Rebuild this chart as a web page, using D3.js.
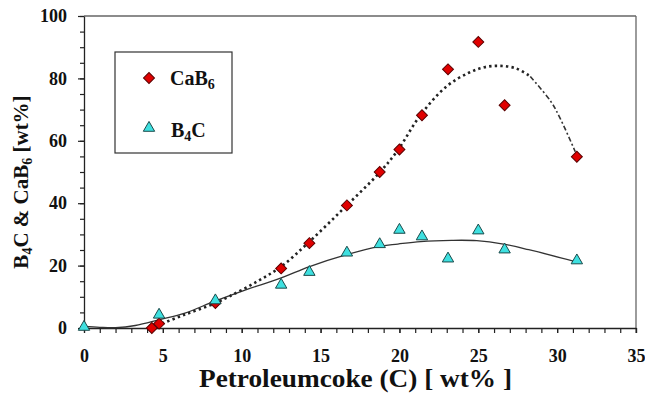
<!DOCTYPE html>
<html>
<head>
<meta charset="utf-8">
<script src="https://cdn.jsdelivr.net/npm/d3@7"></script>
<style>
  body { margin: 0; background: #fff; }
  svg text { font-family: "Liberation Serif", "DejaVu Serif", "Noto Serif", Times, serif !important; font-weight: bold; fill: #111; }
</style>
</head>
<body>
<div id="chart"></div>
<script>
// measured points
var coke = [0, 4.3, 4.76, 8.33, 12.5, 14.29, 16.67, 18.75, 20, 21.43, 23.08, 25, 26.67, 31.25];
var cab6 = [null, 0, 1.4, 8.0, 19.1, 27.2, 39.3, 50.0, 57.2, 68.2, 82.9, 91.7, 71.4, 54.9];
var b4cX = [0, 4.76, 8.33, 12.5, 14.29, 16.67, 18.75, 20, 21.43, 23.08, 25, 26.67, 31.25];
var b4c = [0, 3.9, 8.5, 13.5, 17.6, 23.8, 26.5, 31.1, 29.0, 21.9, 30.9, 24.8, 21.3];

// trend lines
var fitCaX = [4.3, 4.8, 6.4, 8.25, 9.2, 10.8, 12.5, 14.3, 16.6, 18.7, 19.9, 21.3, 23.0, 24.4, 25.4, 26.4, 27.4, 28.3, 29.6, 30.2, 31.15];
var fitCaY = [0, 1.1, 4.3, 7.8, 10.1, 14.4, 19.7, 27.7, 39, 49.6, 57, 68, 77.5, 81.8, 83.6, 84.0, 83.2, 80.6, 72.6, 67.1, 56.5];
var fitB4X = [0, 1, 2, 3.25, 4.8, 6.4, 8.25, 10.3, 12.46, 14.3, 16.65, 18.66, 19.9, 21.34, 23.3, 24.9, 26.6, 28.2, 31.15];
var fitB4Y = [0.5, 0.2, 0.1, 0.8, 2.7, 4.8, 8.5, 12.3, 16, 19.7, 23.5, 26.1, 26.9, 27.7, 28.1, 28.0, 26.9, 25.1, 21.3];

var xTicks = [0, 5, 10, 15, 20, 25, 30, 35];
var yTicks = [0, 20, 40, 60, 80, 100];

var W = 645, H = 404;
var margin = { top: 16, right: 9, bottom: 76, left: 84 };
var width = W - margin.left - margin.right,
    height = H - margin.top - margin.bottom;

var svg = d3.select("#chart").append("svg")
    .attr("width", W)
    .attr("height", H);

var g = svg.append("g")
    .attr("transform", "translate(" + margin.left + "," + margin.top + ")");

var x = d3.scaleLinear().domain([0, 35]).range([0, width]);
var y = d3.scaleLinear().domain([0, 100]).range([height, 0]);

// frame (top and right in grey)
g.append("line").attr("x1", 0).attr("x2", width).attr("y1", 0).attr("y2", 0)
    .attr("stroke", "#666").attr("stroke-width", 1.3);
g.append("line").attr("x1", width).attr("x2", width).attr("y1", 0).attr("y2", height + 5)
    .attr("stroke", "#666").attr("stroke-width", 1.3);

// minor ticks
g.append("g").attr("transform", "translate(0," + height + ")")
    .call(d3.axisBottom(x).ticks(35).tickSize(5).tickFormat(""))
    .call(function (a) { a.select(".domain").remove(); a.selectAll("line").attr("stroke", "#222").attr("stroke-width", 1.2); });
g.append("g")
    .call(d3.axisLeft(y).ticks(20).tickSize(4).tickFormat(""))
    .call(function (a) { a.select(".domain").remove(); a.selectAll("line").attr("stroke", "#222").attr("stroke-width", 1.2); });

// main axes
var xAxis = g.append("g").attr("transform", "translate(0," + height + ")")
    .call(d3.axisBottom(x).tickValues(xTicks).tickSize(5).tickSizeOuter(0).tickPadding(16));
var yAxis = g.append("g")
    .call(d3.axisLeft(y).tickValues(yTicks).tickSize(6).tickSizeOuter(0).tickPadding(11));
[xAxis, yAxis].forEach(function (a) {
    a.attr("font-family", null).attr("font-size", null);
    a.select(".domain").attr("stroke", "#222").attr("stroke-width", 1.3);
    a.selectAll("line").attr("stroke", "#222").attr("stroke-width", 1.2);
    a.selectAll("text").style("font-size", "18px").attr("fill", "#111");
});

// fit lines
var line = d3.line()
    .x(function (d) { return x(d[0]); })
    .y(function (d) { return y(d[1]); })
    .curve(d3.curveCatmullRom);

var b4Fit = fitB4X.map(function (v, i) { return [v, fitB4Y[i]]; });
g.append("path").datum(b4Fit).attr("d", line)
    .attr("fill", "none").attr("stroke", "#333").attr("stroke-width", 1.3);

var caFit = fitCaX.map(function (v, i) { return [v, fitCaY[i]]; });
var split = fitCaX.indexOf(28.3);
g.append("path").datum(caFit.slice(0, split + 1)).attr("d", line)
    .attr("fill", "none").attr("stroke", "#222").attr("stroke-width", 2.6)
    .attr("stroke-dasharray", "2.4,3.2");
g.append("path").datum(caFit.slice(split)).attr("d", line)
    .attr("fill", "none").attr("stroke", "#333").attr("stroke-width", 1.6)
    .attr("stroke-dasharray", "5,2.5,2,2.5");

// markers
var diamond = d3.symbol().type(d3.symbolSquare).size(60);
var triangle = d3.symbol().type(d3.symbolTriangle).size(56);

var caPts = coke.map(function (v, i) { return [v, cab6[i]]; })
    .filter(function (d) { return d[1] !== null; });
g.selectAll(".ca").data(caPts).enter().append("path")
    .attr("d", diamond)
    .attr("transform", function (d) { return "translate(" + x(d[0]) + "," + y(d[1]) + ") rotate(45)"; })
    .attr("fill", "#e00000").attr("stroke", "#5a0000").attr("stroke-width", 1);

var b4Pts = b4cX.map(function (v, i) { return [v, b4c[i]]; });
g.selectAll(".b4").data(b4Pts).enter().append("path")
    .attr("d", triangle)
    .attr("transform", function (d) { return "translate(" + x(d[0]) + "," + (y(d[1]) - 1) + ")"; })
    .attr("fill", "#3ee0e0").attr("stroke", "#1a4a4a").attr("stroke-width", 1);

// legend
var leg = svg.append("g");
leg.append("rect").attr("x", 115).attr("y", 52).attr("width", 117).attr("height", 101)
    .attr("fill", "#fff").attr("stroke", "#333").attr("stroke-width", 1.2);
leg.append("path").attr("d", diamond).attr("transform", "translate(149,78) rotate(45)")
    .attr("fill", "#e00000").attr("stroke", "#5a0000").attr("stroke-width", 1);
leg.append("path").attr("d", triangle).attr("transform", "translate(149,128)")
    .attr("fill", "#3ee0e0").attr("stroke", "#1a4a4a").attr("stroke-width", 1);
var t1 = leg.append("text").attr("x", 170).attr("y", 85).style("font-size", "20px");
t1.append("tspan").text("CaB");
t1.append("tspan").text("6").style("font-size", "14px").attr("dy", 4);
var t2 = leg.append("text").attr("x", 171).attr("y", 137).style("font-size", "20px");
t2.append("tspan").text("B");
t2.append("tspan").text("4").style("font-size", "14px").attr("dy", 4);
t2.append("tspan").text("C").attr("dy", -4);

// axis titles
svg.append("text")
    .attr("x", 199).attr("y", 387)
    .attr("textLength", 313).attr("lengthAdjust", "spacingAndGlyphs")
    .style("font-size", "25px")
    .text("Petroleumcoke (C) [ wt% ]");

var yt = svg.append("text")
    .attr("transform", "translate(28,182) rotate(-90)")
    .attr("text-anchor", "middle").style("font-size", "21px");
yt.append("tspan").text("B");
yt.append("tspan").text("4").style("font-size", "14px").attr("dy", 4);
yt.append("tspan").text("C & CaB").attr("dy", -4);
yt.append("tspan").text("6").style("font-size", "14px").attr("dy", 4);
yt.append("tspan").text(" [wt%]").attr("dy", -4);
</script>
</body>
</html>
